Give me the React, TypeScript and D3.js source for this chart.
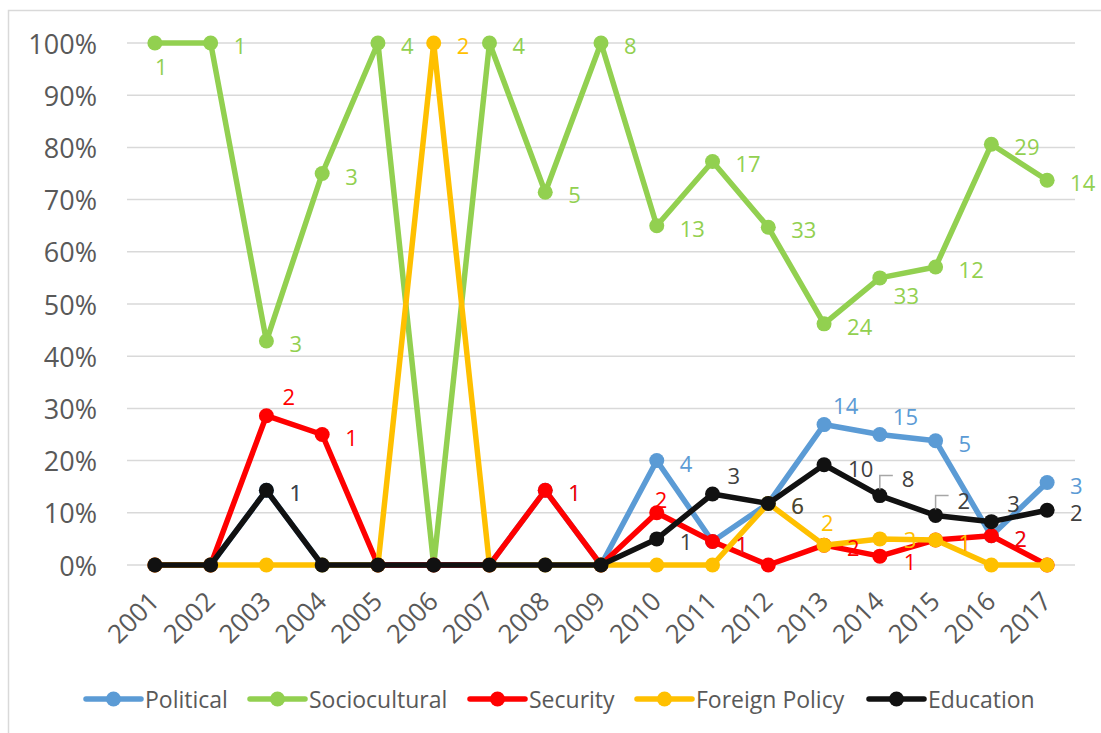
import React from 'react';
import * as d3 from 'd3';

const years = ['2001', '2002', '2003', '2004', '2005', '2006', '2007', '2008', '2009', '2010', '2011', '2012', '2013', '2014', '2015', '2016', '2017'];

// Percentages per year
const political = [0, 0, 14.3, 0, 0, 0, 0, 14.3, 0, 20, 4.5, 11.8, 26.9, 25, 23.8, 5.6, 15.8];
const sociocultural = [100, 100, 42.9, 75, 100, 0, 100, 71.4, 100, 65, 77.3, 64.7, 46.2, 55, 57.1, 80.6, 73.7];
const security = [0, 0, 28.6, 25, 0, 0, 0, 14.3, 0, 10, 4.5, 0, 3.8, 1.7, 4.8, 5.6, 0];
const foreignPolicy = [0, 0, 0, 0, 0, 100, 0, 0, 0, 0, 0, 11.8, 3.8, 5, 4.8, 0, 0];
const education = [0, 0, 14.3, 0, 0, 0, 0, 0, 0, 5, 13.6, 11.8, 19.2, 13.3, 9.5, 8.3, 10.5];

// Counts shown as data labels (0 = no label)
const politicalCounts = [0, 0, 1, 0, 0, 0, 0, 1, 0, 4, 1, 6, 14, 15, 5, 2, 3];
const socioculturalCounts = [1, 1, 3, 3, 4, 0, 4, 5, 8, 13, 17, 33, 24, 33, 12, 29, 14];
const securityCounts = [0, 0, 2, 1, 0, 0, 0, 1, 0, 2, 1, 0, 2, 1, 1, 2, 0];
const foreignPolicyCounts = [0, 0, 0, 0, 0, 2, 0, 0, 0, 0, 0, 6, 2, 3, 1, 0, 0];
const educationCounts = [0, 0, 1, 0, 0, 0, 0, 0, 0, 1, 3, 6, 10, 8, 2, 3, 2];

const yTicks = [0, 10, 20, 30, 40, 50, 60, 70, 80, 90, 100];

const seriesNames = ['Political', 'Sociocultural', 'Security', 'Foreign Policy', 'Education'];
const seriesValues = [political, sociocultural, security, foreignPolicy, education];
const seriesCounts = [politicalCounts, socioculturalCounts, securityCounts, foreignPolicyCounts, educationCounts];
const seriesColors = ['#5B9BD5', '#92D050', '#FF0000', '#FFC000', '#111111'];
const labelColors = ['#5B9BD5', '#92D050', '#FF0000', '#FFC000', '#404040'];

// layout: label offset overrides (series-yearIndex -> [dx, dy])
const DEFAULT_OFFSET: [number, number] = [23, 2];
const labelOffsets: Record<string, [number, number]> = {
  '0-12': [9, -20],
  '0-13': [13, -19],
  '1-0': [0, 23],
  '1-13': [14, 17],
  '2-2': [16, -20],
  '2-9': [-2, -14],
  '2-13': [24, 5],
  '3-12': [-3, -23],
  '3-13': [24, 0],
  '4-10': [15, -19],
  '4-12': [24, 3],
  '4-13': [22, -18],
  '4-14': [22, -15],
  '4-15': [16, -19],
};
const leaderKeys = ['4-13', '4-14'];

const legendStarts = [86, 250, 470, 637, 869];

const W = 1101;
const H = 733;
const FONT = "'Open Sans', 'Noto Sans', sans-serif";

export default function App() {
  const x = d3.scaleBand<string>().domain(years).range([127, 1075]);
  const y = d3.scaleLinear().domain([0, 100]).range([565, 43]);
  const cx = (yr: string) => (x(yr) as number) + x.bandwidth() / 2;

  const line = d3
    .line<number>()
    .x((_, i) => cx(years[i]))
    .y((d) => y(d));

  return (
    <svg
      width={W}
      height={H}
      style={{ position: 'absolute', left: 0, top: 0, background: '#fff' }}
      fontFamily={FONT}
    >
      <rect x={0} y={0} width={W} height={H} fill="#fff" />
      <rect x={8.5} y={10.5} width={W + 20} height={H + 20} fill="none" stroke="#D9D9D9" strokeWidth={1.5} />

      {/* grid */}
      {yTicks.map((t) => (
        <line key={'g' + t} x1={127} x2={1075} y1={y(t)} y2={y(t)} stroke="#D9D9D9" strokeWidth={1.5} />
      ))}
      {/* y ticks */}
      {yTicks.map((t) => (
        <text
          key={'yt' + t}
          x={97}
          y={y(t)}
          textAnchor="end"
          dominantBaseline="central"
          fontSize={27}
          fill="#595959"
        >
          {t + '%'}
        </text>
      ))}
      {/* x ticks */}
      {years.map((yr) => (
        <text
          key={'xt' + yr}
          transform={`translate(${cx(yr) + 6},${603}) rotate(-45)`}
          textAnchor="end"
          fontSize={26}
          fill="#595959"
        >
          {yr}
        </text>
      ))}

      {/* series */}
      {seriesValues.map((vals, s) => (
        <g key={'s' + s}>
          <path d={line(vals) || ''} fill="none" stroke={seriesColors[s]} strokeWidth={5.5} strokeLinejoin="round" />
          {vals.map((v, i) => (
            <circle key={i} cx={cx(years[i])} cy={y(v)} r={7.5} fill={seriesColors[s]} />
          ))}
        </g>
      ))}

      {/* leader lines */}
      {leaderKeys.map((k) => {
        const [s, i] = k.split('-').map(Number);
        const px = cx(years[i]);
        const py = y(seriesValues[s][i]);
        return (
          <path
            key={'ld' + k}
            d={`M${px},${py - 6}V${py - 20}H${px + 13}`}
            fill="none"
            stroke="#A6A6A6"
            strokeWidth={1.5}
          />
        );
      })}

      {/* data labels */}
      {seriesCounts.map((counts, s) =>
        counts.map((c, i) => {
          if (!c) return null;
          const [dx, dy] = labelOffsets[`${s}-${i}`] || DEFAULT_OFFSET;
          return (
            <text
              key={`l${s}-${i}`}
              x={cx(years[i]) + dx}
              y={y(seriesValues[s][i]) + dy}
              dominantBaseline="central"
              fontSize={22}
              fill={labelColors[s]}
            >
              {c}
            </text>
          );
        })
      )}

      {/* legend */}
      {seriesNames.map((n, s) => {
        const x0 = legendStarts[s];
        return (
          <g key={'lg' + s}>
            <line x1={x0} x2={x0 + 55} y1={699} y2={699} stroke={seriesColors[s]} strokeWidth={5.5} strokeLinecap="round" />
            <circle cx={x0 + 27.5} cy={699} r={7.5} fill={seriesColors[s]} />
            <text x={x0 + 59} y={699} dominantBaseline="central" fontSize={23} fill="#595959">
              {n}
            </text>
          </g>
        );
      })}
    </svg>
  );
}
